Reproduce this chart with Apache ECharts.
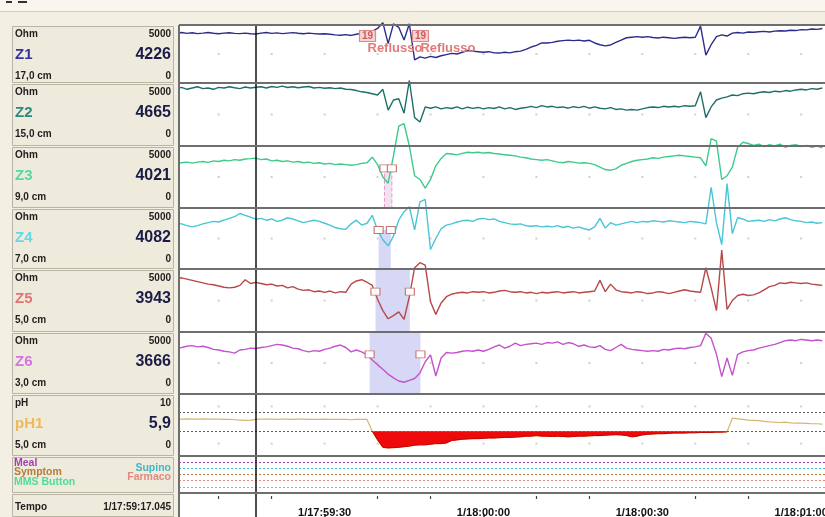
<!DOCTYPE html>
<html>
<head>
<meta charset="utf-8">
<script src="https://cdn.jsdelivr.net/npm/echarts@6/dist/echarts.min.js"></script>
<style>
  html, body { margin: 0; padding: 0; background: #f3f0e3; }
  #chart { width: 825px; height: 517px; }
</style>
</head>
<body>
<div id="chart"></div>
<script>
// Time base: seconds relative to 1/17:59:30, one sample per second
const seconds = [];
for (let s = -28; s <= 94; s++) seconds.push(s);

// Impedance channels (Ohm), one value per second
const z1Ohm = [
  4310, 4350, 4280, 4330, 4260, 4300, 4350, 4290, 4240, 4300,
  4330, 4280, 4260, 4300, 4240, 4226, 4300, 4350, 4280, 4320,
  4260, 4300, 4340, 4290, 4250, 4300, 4260, 4220, 4250, 4200,
  4150, 4120, 4170, 4100, 4200, 4300, 4380, 4450, 4700, 5200,
  3400, 5100, 4800, 3700, 5100, 2000, 2250, 2150, 2300, 2200,
  2350, 2450, 2550, 2500, 2650, 2800, 2750, 2700, 2650, 2700,
  2600, 2580, 2650, 2600, 2700, 2750, 2900, 3100, 3250, 3450,
  3450, 3500, 3600, 3650, 3700, 3650, 3700, 3620, 3680, 3450,
  3300, 3200, 3280, 3500, 3700, 3900, 3950, 4000, 3950, 4000,
  3920, 3880, 3950, 3900, 3850, 3900, 3950, 3900, 3950, 4900,
  2400, 3300, 4000, 4150, 4050, 4300, 4350, 4300, 4400, 4380,
  4420, 4450, 4400, 4470, 4500, 4480, 4550, 4520, 4600, 4580,
  4650, 4620, 4700
];
const z2Ohm = [
  4550, 4650, 4500, 4600, 4700, 4550, 4600, 4500, 4650, 4600,
  4700, 4620, 4550, 4680, 4600, 4665, 4700, 4600, 4720, 4650,
  4750, 4640, 4700, 4620, 4680, 4720, 4600, 4650, 4580, 4620,
  4550, 4600, 4500, 4480, 4400, 4300, 4250, 4150, 4050, 4500,
  2850, 3650, 3750, 2600, 5200, 2250, 1900, 3100, 3000, 3100,
  2950, 3050, 2980, 3100, 2950, 3080, 2990, 3060, 2950, 3050,
  2980, 3100, 2950, 3050, 2900, 3000, 3050, 3150, 3050, 3200,
  3100, 3150, 3050, 3100, 3000, 3120, 3050, 3150, 3000, 3100,
  3000, 2950, 3050, 2900, 2950, 2850, 2900, 2850, 2950, 3050,
  3100, 3050, 3150, 3100, 3150, 3100, 3200, 3150, 3200, 4300,
  2250, 3100, 3650, 3800, 3900, 4050, 4000, 4150, 4200, 4150,
  4250, 4300, 4250, 4350, 4300, 4400, 4350, 4450, 4500, 4450,
  4550, 4500, 4600
];
const z3Ohm = [
  3600, 3650, 3700, 3620, 3700, 3750, 3680, 3800, 3750, 3850,
  3800, 3900, 3850, 3950, 3980, 4021, 3900, 3950, 3800, 3850,
  3750, 3800, 3700, 3750, 3650, 3700, 3600, 3650, 3550, 3600,
  3500, 3550, 3500, 3450, 3500, 3600, 3650, 4100, 3500, 2500,
  2000, 4200, 6600, 6800, 5000, 2600, 2300, 1600, 2300, 3400,
  4000, 4400, 4350, 4280, 4400, 4500, 4450, 4500, 4430, 4480,
  4400, 4350, 4300, 4250, 4200, 4100, 4050, 3950, 3900, 3850,
  3900, 3800, 3700, 3650, 3750, 3700, 3620, 3650, 3600, 3500,
  3300, 3100, 3050, 3150, 3450, 3600, 3750, 3850, 3900, 3950,
  4050, 4000, 4100, 4150, 4200, 4250, 4200, 4150, 4100, 4050,
  3400, 5600, 5400, 2300, 2600, 3300, 4900, 5300, 5200, 5050,
  5150, 4950, 5100, 5000, 5150, 4900, 5050, 5100, 4950, 5050,
  4900, 5000, 4850
];
const z4Ohm = [
  3750, 3700, 3550, 3450, 3550, 3700, 3800, 3900, 3850, 4000,
  4150, 4300, 4550, 4400, 4250, 4082, 4150, 4000, 4100, 3900,
  4000, 4200, 4100, 3950, 3800, 3900, 4000, 3900, 3750, 3600,
  3400, 3300, 3250, 3700, 4000, 3600, 3750, 4400, 3200, 2400,
  1900, 2700, 4000, 4700, 5100, 3200, 5500, 5700, 1600, 2500,
  3300, 3600, 3700, 3850, 3950, 4000, 3900, 4100, 4150, 4050,
  4100, 3900, 3800, 3700, 3650, 3700, 3550, 3500, 3550, 3450,
  3500, 3450, 3550, 3400, 3500, 3350, 3450, 3300, 3200, 3450,
  4150, 3350, 3800, 3600, 3700, 3800, 3900, 3800, 3900, 3850,
  3950, 3900, 3850, 3950, 3900, 3850, 3800, 3900, 3850, 3800,
  3700, 6700, 3800, 2000, 7000, 2900, 4200, 4100, 3900, 3950,
  4000, 3900, 4050, 3950, 4100, 4200, 4050, 3950, 3900, 3800,
  3850, 3750, 3800
];
const z5Ohm = [
  4250, 4300, 4200, 4100, 4000, 3900, 3800, 3750, 3650, 3550,
  3500, 3550, 3700, 4150, 3850, 3943, 3850, 3750, 3800, 3650,
  3700, 3500, 3600, 3400, 3300, 3350, 3200, 3250, 3150, 3250,
  3100, 3200, 3150, 3800, 4050, 4150, 3950, 3700, 2600, 1700,
  1050, 1300, 1600, 1000, 2800, 5100, 5500, 5300, 2400, 1400,
  2300, 2800, 3000, 3100, 3150, 3100, 3200, 3150, 3200, 3100,
  3150, 3250, 3300, 3200, 3150, 3200, 3100, 3150, 3050, 3150,
  3100, 3150, 3200, 3100, 3150, 3200, 3100, 3150, 3200, 3250,
  4100, 3200, 3800, 3350, 3200, 3150, 3100, 3200, 3150, 3050,
  3100, 3200, 3150, 3050, 3150, 3250, 3350, 3250, 3200, 3150,
  5100, 3500, 1700, 6500, 1800, 2500, 2900, 3000, 2900, 2950,
  3100, 3350, 3600, 3700, 3900, 3850, 3950, 3900, 3850, 3900,
  3800, 3750, 3700
];
const z6Ohm = [
  3700, 3750, 3850, 3900, 3800, 3850, 3750, 3600, 3550, 3450,
  3400, 3300, 3550, 3600, 3700, 3666, 3750, 3800, 3900, 4000,
  3950, 3850, 3700, 3650, 3500, 3400, 3500, 3450, 3600, 3700,
  3850, 3950, 3750, 3400, 3550, 3400, 3150, 2750, 2350, 2000,
  1600, 1300, 1050, 950, 1100, 1250, 1700, 2600, 3150, 1450,
  2900, 3350, 3300, 3350, 3450, 3500, 3450, 3550, 3450, 3600,
  3800, 3950, 3700, 3850, 4100, 3900, 4000, 4050, 4100, 4000,
  4150, 4100, 4200, 4000, 4150, 4050, 3850, 3950, 3800, 3750,
  3900, 3600, 3500, 3750, 4000, 3700, 3600, 3550, 3500, 3450,
  3500, 3450, 3600, 3550, 3650, 3700, 3650, 3750, 3800, 3900,
  4900, 4500, 3200, 1400, 2900, 1500, 3200, 3400, 3500, 3550,
  3700, 3800, 3900, 4000, 4150, 4300, 4350, 4300, 4400, 4350,
  4300, 4350, 4300
];
// pH sensor, one value per second
const ph1 = [
  5.95, 5.95, 6.0, 5.95, 5.95, 6.0, 5.95, 5.95, 5.95, 5.9,
  5.9, 5.85, 5.8, 5.75, 5.8, 5.9, 5.95, 5.95, 5.95, 5.9,
  5.95, 5.95, 5.9, 5.95, 5.95, 5.9, 5.9, 5.9, 5.95, 5.9,
  5.9, 5.9, 5.9, 5.85, 5.9, 5.9, 5.9, 4.0, 2.6, 1.4,
  1.3, 1.35, 1.4, 1.5, 1.6, 1.75, 1.8, 1.8, 1.9, 2.0,
  2.0, 2.1, 2.5, 2.6, 2.7, 2.75, 2.8, 2.8, 2.85, 2.9,
  2.9, 2.95, 3.0, 3.0, 3.05, 3.1, 3.2, 3.2, 3.3, 3.2,
  3.2, 3.15, 3.2, 3.15, 3.1, 3.15, 3.2, 3.2, 3.25, 3.3,
  3.3, 3.35, 3.4, 3.45, 3.4, 3.3, 3.1, 3.2, 3.4, 3.5,
  3.55, 3.6, 3.6, 3.65, 3.7, 3.7, 3.7, 3.75, 3.75, 3.8,
  3.8, 3.8, 3.85, 3.85, 3.9, 6.1, 6.0, 5.9, 5.8, 5.75,
  5.7, 5.6, 5.5, 5.45, 5.4, 5.45, 5.35, 5.3, 5.3, 5.25,
  5.2, 5.2, 5.15
];

// Channel descriptors
const channelNames = ['Z1', 'Z2', 'Z3', 'Z4', 'Z5', 'Z6'];
const channelDepths = ['17,0 cm', '15,0 cm', '9,0 cm', '7,0 cm', '5,0 cm', '3,0 cm'];
const channelColors = ['#2c2c8c', '#1f6f68', '#3ccb8b', '#48c6d6', '#b84848', '#c452cc'];
const channelLabelColors = ['#34349e', '#2a8a80', '#55d9a2', '#66d8e6', '#e07474', '#d275e0'];
const channelOhm = [z1Ohm, z2Ohm, z3Ohm, z4Ohm, z5Ohm, z6Ohm];
const ohmRange = [0, 5000];
const phRange = [0, 10];
const phRefLevels = [7, 4];
const acidLimit = 4;
const phDepth = '5,0 cm';

// Bolus windows for Z3..Z6 (seconds) and the impedance level of their markers
const bolusStart = [11.3, 10.2, 9.6, 8.5];
const bolusEnd = [12.7, 12.5, 16.1, 18.1];
const bolusTopOhm = [3200, 3200, 5000, 5000];
const bolusMarkOhm = 3200;

// Reflux annotations on Z1
const refluxSecs = [8.1, 18.1];
const refluxCount = '19';
const refluxText = 'Reflusso';
const refluxBoxOhm = 4050;
const refluxTextOhm = 3000;

// Event channels
const eventNames = ['Meal', 'Supino', 'Symptom', 'Farmaco', 'MMS Button'];
const eventLevels = [5, 4, 3, 2, 1];
const eventColors = ['#a23fb2', '#3fb6c6', '#b47c36', '#e2897e', '#4fdc98'];

// Time axis
const majorTicks = [0, 30, 60, 90];
const minorTicks = [-20, -10, 10, 20, 40, 50, 70, 80];
const timeLabels = ['1/17:59:30', '1/18:00:00', '1/18:00:30', '1/18:01:00'];
const gridTicks = [-20, -10, 0, 10, 20, 30, 40, 50, 60, 70, 80, 90];
const cursorSec = -12.955;
const cursorStamp = '1/17:59:17.045';
const cursorIndex = seconds.indexOf(-13);

const FONT = '"Liberation Sans", Arial, Helvetica, sans-serif';
const X_MIN = -27.5, X_MAX = 94.5;
const PLOT_LEFT = 179;
const panelTops = [25, 83, 146, 208, 269, 332, 394, 456, 493];
const panelBottoms = [83, 146, 208, 269, 332, 394, 456, 493, 517];
const yMax = [5000, 5000, 5000, 5000, 5000, 5000, 10, 6, 1];

const pairs = (vals) => seconds.map((s, k) => [s, vals[k]]);

const cursorLine = {
  silent: true, animation: false, symbol: ['none', 'none'],
  label: { show: false },
  lineStyle: { color: '#111', width: 1.5, type: 'solid' },
  data: [{ xAxis: cursorSec }]
};

const grids = panelTops.map((top, i) => ({
  left: PLOT_LEFT, right: 0, top, height: panelBottoms[i] - top,
  outerBoundsMode: 'none', containLabel: false,
  show: true, backgroundColor: '#ffffff', borderWidth: 0
}));

const xAxes = panelTops.map((_, i) => ({
  type: 'value', gridIndex: i, min: X_MIN, max: X_MAX, show: false,
  splitLine: { show: false }
}));
// Time scale: labelled major ticks and short minor ticks
xAxes[8] = {
  type: 'value', gridIndex: 8, min: X_MIN, max: X_MAX, position: 'top', offset: -3,
  axisLine: { show: false },
  axisTick: { show: true, inside: true, length: 8, customValues: majorTicks, lineStyle: { color: '#333', width: 1.5 } },
  axisLabel: {
    show: true, inside: true, margin: 11, customValues: majorTicks, hideOverlap: false,
    formatter: (v) => timeLabels[majorTicks.indexOf(v)],
    fontFamily: FONT, fontWeight: 'bold', fontSize: 11, color: '#111'
  },
  splitLine: { show: false }
};
xAxes.push({
  type: 'value', gridIndex: 8, min: X_MIN, max: X_MAX, position: 'top', offset: -3,
  axisLine: { show: false },
  axisTick: { show: true, inside: true, length: 3, customValues: minorTicks, lineStyle: { color: '#444', width: 1.2 } },
  axisLabel: { show: false },
  splitLine: { show: false }
});

const yAxes = panelTops.map((_, i) => ({
  type: 'value', gridIndex: i, min: 0, max: yMax[i], show: false, splitLine: { show: false }
}));

const series = [];

// faint reference dots along each impedance panel
channelNames.forEach((_, i) => {
  series.push({
    type: 'scatter', xAxisIndex: i, yAxisIndex: i, silent: true, symbol: 'rect', symbolSize: 2,
    itemStyle: { color: '#c4c4c4' }, data: gridTicks.map((s) => [s, (ohmRange[0] + ohmRange[1]) / 2]), z: 1
  });
});
series.push({
  type: 'scatter', xAxisIndex: 6, yAxisIndex: 6, silent: true, symbol: 'rect', symbolSize: 2,
  itemStyle: { color: '#c4c4c4' }, data: gridTicks.flatMap((s) => [[s, 8], [s, 2]]), z: 1
});

channelNames.forEach((name, i) => {
  const s = {
    type: 'line', name, xAxisIndex: i, yAxisIndex: i, data: pairs(channelOhm[i]),
    showSymbol: false, symbol: 'none', clip: false, z: 3,
    lineStyle: { color: channelColors[i], width: 1.4 },
    markLine: cursorLine
  };
  if (i === 0) {
    s.markPoint = {
      silent: true, animation: false,
      data: [
        ...refluxSecs.map((t) => ({
          coord: [t, refluxBoxOhm], symbol: 'rect', symbolSize: [16, 11],
          itemStyle: { color: '#f7d3d3', borderColor: '#d98a8a', borderWidth: 1 },
          label: { show: true, position: 'inside', formatter: refluxCount, color: '#d05a5a', fontSize: 10, fontWeight: 'bold', fontFamily: FONT }
        })),
        ...refluxSecs.map((t) => ({
          coord: [t, refluxTextOhm], symbol: 'rect', symbolSize: 0,
          label: { show: true, position: 'right', distance: 0, formatter: refluxText, color: '#e27a7a', fontSize: 13, fontWeight: 'bold', fontFamily: FONT }
        }))
      ]
    };
  }
  if (i >= 2) {
    const j = i - 2;
    s.markArea = {
      silent: true, animation: false,
      itemStyle: j === 0
        ? { color: 'rgba(214,170,222,0.35)', borderColor: '#e59ac0', borderWidth: 1, borderType: 'dashed' }
        : { color: 'rgba(150,152,232,0.38)' },
      data: [[{ xAxis: bolusStart[j], yAxis: 0 }, { xAxis: bolusEnd[j], yAxis: bolusTopOhm[j] }]]
    };
    s.markPoint = {
      silent: true, animation: false, symbol: 'rect', symbolSize: [9, 7],
      itemStyle: { color: '#ffffff', borderColor: '#c87272', borderWidth: 1 },
      label: { show: false },
      data: [{ coord: [bolusStart[j], bolusMarkOhm] }, { coord: [bolusEnd[j], bolusMarkOhm] }]
    };
  }
  series.push(s);
});

// pH trace with reference levels
series.push({
  type: 'line', name: 'pH1', xAxisIndex: 6, yAxisIndex: 6, data: pairs(ph1),
  showSymbol: false, symbol: 'none', z: 3,
  lineStyle: { color: '#d6b66c', width: 1.2 },
  markLine: {
    silent: true, animation: false, symbol: ['none', 'none'], label: { show: false },
    data: [
      ...phRefLevels.map((v) => ({ yAxis: v, lineStyle: { color: '#5a5a5a', width: 1, type: [2, 2] } })),
      { xAxis: cursorSec, lineStyle: { color: '#111', width: 1.5, type: 'solid' } }
    ]
  }
});
// acid exposure: area between pH trace and the acid limit
series.push({
  type: 'line', name: 'acid', xAxisIndex: 6, yAxisIndex: 6,
  data: seconds.map((s, k) => [s, ph1[k] <= acidLimit ? ph1[k] : null]),
  showSymbol: false, symbol: 'none', z: 4, connectNulls: false,
  lineStyle: { color: '#c40000', width: 1 },
  areaStyle: { color: '#ee0a0a', opacity: 1, origin: acidLimit }
});

// event channels
series.push({
  type: 'line', name: 'events', xAxisIndex: 7, yAxisIndex: 7, data: [],
  markLine: {
    silent: true, animation: false, symbol: ['none', 'none'], label: { show: false },
    data: [
      ...eventLevels.map((v, k) => ({ yAxis: v, lineStyle: { color: eventColors[k], width: 1, type: [2, 2] } })),
      { xAxis: cursorSec, lineStyle: { color: '#111', width: 1.5, type: 'solid' } }
    ]
  }
});
// time scale row
series.push({
  type: 'line', name: 'time', xAxisIndex: 8, yAxisIndex: 8, data: [],
  markLine: cursorLine
});

// Frame, separators and left-hand channel panels
const graphic = [];
const txt = (x, y, text, font, fill, align) => ({
  type: 'text', x, y, z: 100,
  style: { text, font, fill, align: align || 'left', verticalAlign: 'middle', textAlign: align || 'left', textVerticalAlign: 'middle' }
});
graphic.push({ type: 'rect', z: 90, shape: { x: 0, y: 0, width: 825, height: 11 }, style: { fill: '#f8f6ef' } });
graphic.push({ type: 'line', z: 91, shape: { x1: 0, y1: 11.5, x2: 825, y2: 11.5 }, style: { stroke: '#d3cfbf', lineWidth: 1 } });
graphic.push({ type: 'rect', z: 92, shape: { x: 6, y: 1, width: 6, height: 2 }, style: { fill: '#333' } });
graphic.push({ type: 'rect', z: 92, shape: { x: 18, y: 1, width: 9, height: 2 }, style: { fill: '#333' } });

panelTops.forEach((top) => {
  graphic.push({
    type: 'line', z: 60, silent: true,
    shape: { x1: PLOT_LEFT, y1: top, x2: 825, y2: top },
    style: { stroke: '#6e6e6e', lineWidth: 2 }
  });
});
graphic.push({
  type: 'line', z: 60, silent: true,
  shape: { x1: PLOT_LEFT, y1: panelTops[0], x2: PLOT_LEFT, y2: 517 },
  style: { stroke: '#6e6e6e', lineWidth: 2 }
});

panelTops.forEach((top, i) => {
  const bottom = panelBottoms[i];
  graphic.push({
    type: 'rect', z: 95,
    shape: { x: 12.5, y: top + 1.5, width: 161, height: bottom - top - 2 },
    style: { fill: '#efebdc', stroke: '#b9b5a5', lineWidth: 1 }
  });
});

const small = 'bold 10px ' + FONT;
const big = 'bold 16px ' + FONT;
const nameFont = 'bold 15px ' + FONT;
channelNames.forEach((name, i) => {
  const top = panelTops[i];
  graphic.push(txt(15, top + 9, 'Ohm', small, '#1e1e1e'));
  graphic.push(txt(171, top + 9, String(ohmRange[1]), small, '#1e1e1e', 'right'));
  graphic.push(txt(15, top + 30, name, nameFont, channelLabelColors[i]));
  graphic.push(txt(171, top + 30, String(channelOhm[i][cursorIndex]), big, '#1c1c48', 'right'));
  graphic.push(txt(15, top + 51, channelDepths[i], small, '#1e1e1e'));
  graphic.push(txt(171, top + 51, String(ohmRange[0]), small, '#1e1e1e', 'right'));
});
{
  const top = panelTops[6];
  graphic.push(txt(15, top + 9, 'pH', small, '#1e1e1e'));
  graphic.push(txt(171, top + 9, String(phRange[1]), small, '#1e1e1e', 'right'));
  graphic.push(txt(15, top + 30, 'pH1', nameFont, '#f0b85e'));
  graphic.push(txt(171, top + 30, ph1[cursorIndex].toFixed(1).replace('.', ','), big, '#1c1c48', 'right'));
  graphic.push(txt(15, top + 51, phDepth, small, '#1e1e1e'));
  graphic.push(txt(171, top + 51, String(phRange[0]), small, '#1e1e1e', 'right'));
}
{
  const top = panelTops[7];
  const ev = 'bold 10.5px ' + FONT;
  graphic.push(txt(14, top + 7, eventNames[0], ev, eventColors[0]));
  graphic.push(txt(14, top + 16.5, eventNames[2], ev, eventColors[2]));
  graphic.push(txt(14, top + 26, eventNames[4], ev, eventColors[4]));
  graphic.push(txt(171, top + 12, eventNames[1], ev, eventColors[1], 'right'));
  graphic.push(txt(171, top + 21.5, eventNames[3], ev, eventColors[3], 'right'));
}
{
  const top = panelTops[8];
  graphic.push(txt(15, top + 14, 'Tempo', small, '#1e1e1e'));
  graphic.push(txt(171, top + 14, cursorStamp, small, '#1e1e1e', 'right'));
}

const chart = echarts.init(document.getElementById('chart'), null, { renderer: 'canvas' });
chart.setOption({
  animation: false,
  backgroundColor: '#f3f0e3',
  grid: grids,
  xAxis: xAxes,
  yAxis: yAxes,
  series,
  graphic
});
</script>
</body>
</html>
